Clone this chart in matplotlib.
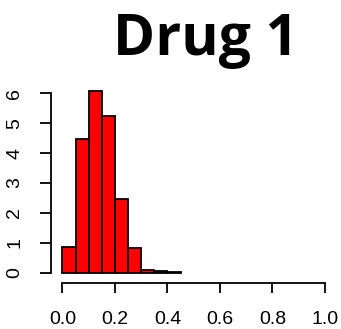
import matplotlib
matplotlib.use('Agg')
import matplotlib.pyplot as plt

# histogram of drug 1 (density scale, bin width 0.05)
bin_edges = [0.0, 0.05, 0.10, 0.15, 0.20, 0.25, 0.30, 0.35, 0.40, 0.45]
density = [0.87, 4.48, 6.07, 5.25, 2.47, 0.82, 0.11, 0.06, 0.02]
x_ticks = [0.0, 0.2, 0.4, 0.6, 0.8, 1.0]
y_ticks = [0, 1, 2, 3, 4, 5, 6]

fig = plt.figure(figsize=(3.41, 3.29), dpi=100)
ax = fig.add_axes([51 / 341, 46 / 329, 284.5 / 341, 198 / 329])

widths = [b - a for a, b in zip(bin_edges[:-1], bin_edges[1:])]
ax.bar(bin_edges[:-1], density, width=widths, align='edge',
       color='red', edgecolor='black', linewidth=1.3)

ax.set_xlim(-0.0438, 1.04)
ax.set_ylim(-0.333, 6.27)

for s in ['top', 'right']:
    ax.spines[s].set_visible(False)
ax.spines['bottom'].set_bounds(0, 1)
ax.spines['left'].set_bounds(0, 6)
for s in ['bottom', 'left']:
    ax.spines[s].set_linewidth(1.3)

ax.set_xticks(x_ticks)
ax.set_xticklabels([f'{t:.1f}' for t in x_ticks], fontsize=14,
                   family='Liberation Sans')
ax.set_yticks(y_ticks)
ax.set_yticklabels([str(t) for t in y_ticks], fontsize=14,
                   family='Liberation Sans', rotation=90, va='center')
ax.tick_params(axis='x', length=7.5, width=1.3, pad=13)
ax.tick_params(axis='y', length=8, width=1.3, pad=12)

fig.text(206 / 341, 1 - 55 / 329, 'Drug 1', ha='center', va='baseline',
         fontsize=41, fontweight='bold', family='Open Sans')

fig.savefig('out.png', dpi=100)
